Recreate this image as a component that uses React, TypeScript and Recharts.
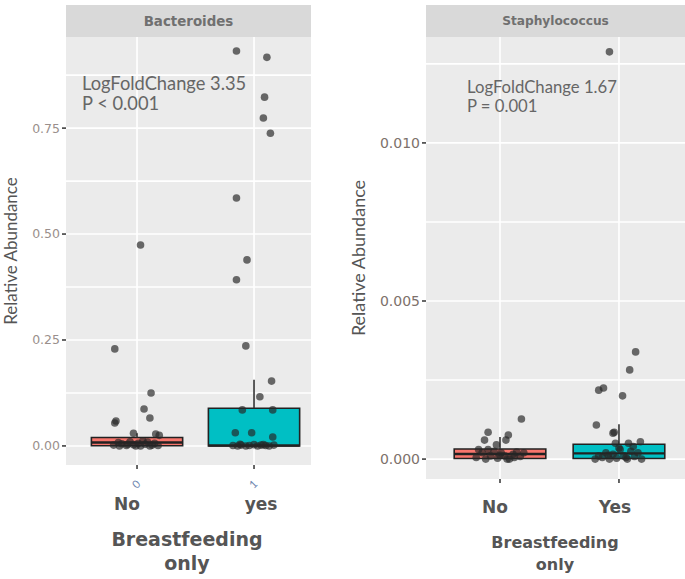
import {
  ComposedChart,
  Scatter,
  XAxis,
  YAxis,
  CartesianGrid,
  ReferenceArea,
  ReferenceLine,
} from "recharts";

// ---- Bacteroides (left panel) ----
const bactGroups = ["No", "yes"];
const bactCodes = ["0", "1"];
const bactYTicks = [0, 0.25, 0.5, 0.75];
const bactYGrid = [0, 0.125, 0.25, 0.375, 0.5, 0.625, 0.75, 0.875];

const bactNoY = [
  0.474, 0.229, 0.125, 0.087, 0.066, 0.059, 0.054, 0.03, 0.028, 0.025,
  0.002, 0.008, 0.005, 0.001, 0.01, 0.003, 0.006, 0.0, 0.004, 0.009, 0.002, 0.006, 0.001, 0.0, 0.004, 0.0, 0.012, 0.0,
];
const bactNoJitter = [
  0.03, -0.19, 0.12, 0.06, 0.11, -0.18, -0.19, -0.03, 0.16, 0.19,
  -0.2, -0.16, -0.13, -0.09, -0.06, -0.03, 0.01, 0.03, 0.07, 0.09, 0.13, 0.15, 0.18, -0.15, -0.08, -0.01, 0.05, 0.11,
];
const bactYesY = [
  0.932, 0.917, 0.823, 0.774, 0.738, 0.585, 0.439, 0.392, 0.236, 0.153, 0.116, 0.085, 0.085, 0.031, 0.031, 0.021,
  0.001, 0.0, 0.002, 0.0, 0.001, 0.003, 0.0, 0.002, 0.001, 0.0, 0.002, 0.004, 0.003,
];
const bactYesJitter = [
  -0.15, 0.11, 0.09, 0.08, 0.14, -0.15, -0.06, -0.15, -0.07, 0.15, 0.05, -0.1, 0.16, -0.16, -0.02, 0.16,
  -0.18, -0.14, -0.11, -0.07, -0.04, 0.0, 0.03, 0.06, 0.1, 0.13, 0.17, -0.12, 0.08,
];
const bactQ1 = [0.0005, 0.0];
const bactMedian = [0.008, 0.001];
const bactQ3 = [0.02, 0.089];
const bactWhiskerHi = [0.03, 0.156];

// ---- Staphylococcus (right panel) ----
const staphGroups = ["No", "Yes"];
const staphYTicks = [0, 0.005, 0.01];
const staphYGrid = [0, 0.0025, 0.005, 0.0075, 0.01, 0.0125];

const staphNoY = [
  0.00127, 0.00085, 0.00076, 0.0006, 0.0006, 0.00045, 0.0003,
  0.00005, 0.0002, 0.0, 0.0001, 0.00025, 0.00003, 0.0002, 0.0001, 0.0, 0.00015, 0.00022, 0.00008, 0.0002, 0.0003, 0.00012, 0.0, 0.00005,
];
const staphNoJitter = [
  0.18, -0.1, 0.07, -0.13, 0.05, -0.03, -0.18,
  -0.2, -0.15, -0.12, -0.08, -0.05, -0.02, 0.01, 0.04, 0.08, 0.11, 0.14, 0.17, 0.2, -0.1, 0.0, 0.06, 0.12,
];
const staphYesY = [
  0.01288, 0.00339, 0.00282, 0.00218, 0.00225, 0.002, 0.00108, 0.00082, 0.00085, 0.0005, 0.0005, 0.00055,
  0.0, 0.0001, 0.00005, 0.0002, 0.0, 0.00015, 0.00003, 0.0003, 0.0001, 0.0, 0.00025, 0.00008, 0.0002, 0.0, 0.00012, 0.00035, 0.0004, 0.00005,
];
const staphYesJitter = [
  -0.08, 0.14, 0.09, -0.17, -0.13, 0.03, -0.19, -0.05, -0.04, -0.03, 0.08, 0.18,
  -0.2, -0.17, -0.14, -0.11, -0.08, -0.05, -0.02, 0.01, 0.04, 0.07, 0.1, 0.13, 0.16, 0.19, -0.09, 0.0, 0.12, 0.06,
];
const staphQ1 = [0.00002, 0.00002];
const staphMedian = [0.00016, 0.00018];
const staphQ3 = [0.00032, 0.00047];
const staphWhiskerHi = [0.0007, 0.0011];

const boxFills = ["#F8766D", "#00BFC4"];
const FONT = "Lato, 'Open Sans', sans-serif";
const WIDE = "'DejaVu Sans', sans-serif";

function toPoints(values: number[], jitter: number[], center: number) {
  return values.map((y, i) => ({ x: center + jitter[i], y }));
}

const Dot = (props: any) => (
  <circle cx={props.cx} cy={props.cy} r={3.8} fill="#262626" fillOpacity={0.68} />
);

interface PanelProps {
  width: number;
  height: number;
  yAxisWidth: number;
  xAxisHeight: number;
  rightMargin: number;
  xDomain: [number, number];
  yDomain: [number, number];
  yTicks: number[];
  yGrid: number[];
  yDigits: number;
  yTickFont: number;
  yTickColor: string;
  groups: string[];
  groupShift: number[];
  codes?: string[];
  groupLabelDy: number;
  noPoints: { x: number; y: number }[];
  yesPoints: { x: number; y: number }[];
  q1: number[];
  median: number[];
  q3: number[];
  whiskerHi: number[];
  halfBox: number;
  yLabelFont: number;
  yLabelOffset: number;
}

function Panel(p: PanelProps) {
  const XTick = (props: any) => {
    const { x, y, payload } = props;
    const i = Math.round(payload.value) - 1;
    return (
      <g>
        {p.codes && (
          <text
            x={x}
            y={y + 14}
            textAnchor="middle"
            dominantBaseline="middle"
            transform={`rotate(-45 ${x} ${y + 14})`}
            fontSize={11}
            fill="#7088b0"
            fontFamily={FONT}
          >
            {p.codes[i]}
          </text>
        )}
        <text
          x={x + p.groupShift[i]}
          y={y + p.groupLabelDy}
          textAnchor="middle"
          fontSize={17}
          fontWeight={700}
          fill="#555"
          fontFamily={WIDE}
        >
          {p.groups[i]}
        </text>
      </g>
    );
  };

  return (
    <ComposedChart
      width={p.width}
      height={p.height}
      margin={{ top: 37, right: p.rightMargin, left: 0, bottom: 0 }}
    >
      <CartesianGrid
        horizontalValues={p.yGrid}
        verticalValues={[1, 2]}
        stroke="#FFFFFF"
        strokeWidth={1.6}
        fill="#EBEBEB"
        fillOpacity={1}
      />
      <XAxis
        type="number"
        dataKey="x"
        domain={p.xDomain}
        allowDataOverflow
        ticks={[1, 2]}
        tick={<XTick />}
        tickSize={4}
        tickLine={{ stroke: "#333", strokeWidth: 1.5 }}
        axisLine={false}
        height={p.xAxisHeight}
        interval={0}
      />
      <YAxis
        type="number"
        dataKey="y"
        domain={p.yDomain}
        allowDataOverflow
        ticks={p.yTicks}
        tickFormatter={(v: number) => v.toFixed(p.yDigits)}
        tick={{ fontSize: p.yTickFont, fill: p.yTickColor, fontFamily: WIDE }}
        tickSize={4}
        tickLine={{ stroke: "#333", strokeWidth: 1.5 }}
        axisLine={false}
        width={p.yAxisWidth}
        interval={0}
        label={{
          value: "Relative Abundance",
          angle: -90,
          position: "insideLeft",
          offset: p.yLabelOffset,
          style: { textAnchor: "middle", fontSize: p.yLabelFont, fill: "#555", fontFamily: FONT },
        }}
      />
      {[0, 1].map((i) => (
        <ReferenceLine
          key={`w${i}`}
          segment={[
            { x: i + 1, y: p.q3[i] },
            { x: i + 1, y: p.whiskerHi[i] },
          ]}
          stroke="#333"
          strokeWidth={1.6}
        />
      ))}
      {[0, 1].map((i) => (
        <ReferenceArea
          key={`b${i}`}
          x1={i + 1 - p.halfBox}
          x2={i + 1 + p.halfBox}
          y1={p.q1[i]}
          y2={p.q3[i]}
          fill={boxFills[i]}
          fillOpacity={1}
          stroke="#222"
          strokeWidth={1.6}
        />
      ))}
      {[0, 1].map((i) => (
        <ReferenceLine
          key={`m${i}`}
          segment={[
            { x: i + 1 - p.halfBox, y: p.median[i] },
            { x: i + 1 + p.halfBox, y: p.median[i] },
          ]}
          stroke="#222"
          strokeWidth={2.4}
        />
      ))}
      <Scatter data={p.noPoints} shape={<Dot />} isAnimationActive={false} />
      <Scatter data={p.yesPoints} shape={<Dot />} isAnimationActive={false} />
    </ComposedChart>
  );
}

const stripStyle: React.CSSProperties = {
  position: "absolute",
  top: 5,
  height: 32,
  background: "#D9D9D9",
  color: "#707070",
  fontFamily: WIDE,
  fontWeight: 700,
  display: "flex",
  alignItems: "center",
  justifyContent: "center",
};

const annStyle: React.CSSProperties = {
  position: "absolute",
  color: "#666",
  fontFamily: FONT,
  whiteSpace: "nowrap",
};

const titleStyle: React.CSSProperties = {
  position: "absolute",
  color: "#555",
  fontFamily: WIDE,
  fontWeight: 700,
  textAlign: "center",
  whiteSpace: "nowrap",
};

export default function App() {
  return (
    <div
      style={{
        position: "absolute",
        left: 0,
        top: 0,
        width: 685,
        height: 579,
        background: "#fff",
        overflow: "hidden",
      }}
    >
      <div style={{ position: "absolute", left: 0, top: 0 }}>
        <Panel
          width={340}
          height={579}
          yAxisWidth={66}
          xAxisHeight={114}
          rightMargin={29}
          xDomain={[0.393, 2.487]}
          yDomain={[-0.045, 0.965]}
          yTicks={bactYTicks}
          yGrid={bactYGrid}
          yDigits={2}
          yTickFont={12.5}
          yTickColor="#9a8f8c"
          groups={bactGroups}
          groupShift={[-10, 7]}
          codes={bactCodes}
          groupLabelDy={39}
          noPoints={toPoints(bactNoY, bactNoJitter, 1)}
          yesPoints={toPoints(bactYesY, bactYesJitter, 2)}
          q1={bactQ1}
          median={bactMedian}
          q3={bactQ3}
          whiskerHi={bactWhiskerHi}
          halfBox={0.39}
          yLabelFont={17}
          yLabelOffset={11}
        />
      </div>
      <div style={{ position: "absolute", left: 340, top: 0 }}>
        <Panel
          width={345}
          height={579}
          yAxisWidth={86}
          xAxisHeight={100}
          rightMargin={0}
          xDomain={[0.378, 2.555]}
          yDomain={[-0.00063, 0.01335]}
          yTicks={staphYTicks}
          yGrid={staphYGrid}
          yDigits={3}
          yTickFont={14}
          yTickColor="#7d716b"
          groups={staphGroups}
          groupShift={[-5, -4]}
          groupLabelDy={28}
          noPoints={toPoints(staphNoY, staphNoJitter, 1)}
          yesPoints={toPoints(staphYesY, staphYesJitter, 2)}
          q1={staphQ1}
          median={staphMedian}
          q3={staphQ3}
          whiskerHi={staphWhiskerHi}
          halfBox={0.385}
          yLabelFont={18}
          yLabelOffset={19}
        />
      </div>

      <div style={{ ...stripStyle, left: 66, width: 245, fontSize: 13.4 }}>Bacteroides</div>
      <div style={{ ...stripStyle, left: 426, width: 259, fontSize: 12.2 }}>Staphylococcus</div>

      <div style={{ ...annStyle, left: 82, top: 73, fontSize: 18.3, lineHeight: "20px" }}>
        LogFoldChange 3.35
        <br />
        P &lt; 0.001
      </div>
      <div style={{ ...annStyle, left: 467, top: 78, fontSize: 16.7, lineHeight: "19px" }}>
        LogFoldChange 1.67
        <br />
        P = 0.001
      </div>

      <div style={{ ...titleStyle, left: 87, width: 200, top: 527, fontSize: 19, lineHeight: "24px" }}>
        Breastfeeding
        <br />
        only
      </div>
      <div style={{ ...titleStyle, left: 455, width: 200, top: 532, fontSize: 16, lineHeight: "22px" }}>
        Breastfeeding
        <br />
        only
      </div>
    </div>
  );
}
